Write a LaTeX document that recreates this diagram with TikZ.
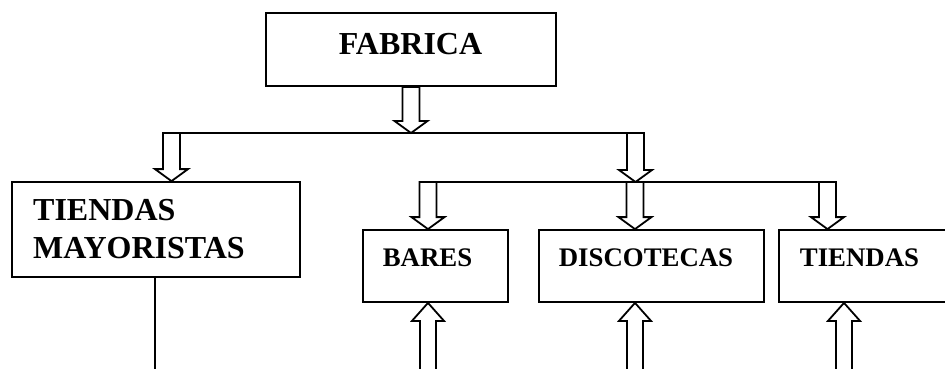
\documentclass[tikz,border=0pt]{standalone}
\usepackage{fontspec}
\setmainfont{Liberation Serif}
\usetikzlibrary{calc}
\tikzset{
  box/.style={draw, line width=1.8pt, rectangle, inner sep=0pt},
  bigtxt/.style={inner sep=0pt, font=\bfseries\fontsize{32}{38}\selectfont},
  smalltxt/.style={inner sep=0pt, font=\bfseries\fontsize{26.8}{31}\selectfont},
  wire/.style={line width=1.8pt},
  blockarrow/.style={draw, line width=1.8pt, fill=white, line join=miter},
}
% hollow block arrow pointing down: shaft from #1, tip at #2
\newcommand\blkdn[2]{\draw[blockarrow] let \p1=(#1), \p2=(#2) in
  (\x1-8.5pt,\y1) -- (\x1-8.5pt,\y2+12pt) -- (\x1-16.5pt,\y2+12pt) -- (\x1,\y2)
  -- (\x1+16.5pt,\y2+12pt) -- (\x1+8.5pt,\y2+12pt) -- (\x1+8.5pt,\y1) -- cycle;}
% hollow block arrow pointing up: shaft from #1 (below), tip at #2
\newcommand\blkup[2]{\draw[blockarrow] let \p1=(#1), \p2=(#2) in
  (\x1-8pt,\y1) -- (\x1-8pt,\y2-18pt) -- (\x1-16pt,\y2-18pt) -- (\x1,\y2)
  -- (\x1+16pt,\y2-18pt) -- (\x1+8pt,\y2-18pt) -- (\x1+8pt,\y1);}
\begin{document}
\begin{tikzpicture}[x=1pt,y=1pt]
\useasboundingbox (0,0) rectangle (945,-369);

% boxes
\node[box, minimum width=290, minimum height=73] (fab) at (411,-49.5) {};
\node[box, minimum width=288, minimum height=95] (may) at (156,-229.5) {};
\node[box, minimum width=145, minimum height=72] (bar) at (435.5,-266) {};
\node[box, minimum width=225, minimum height=72] (dis) at (651.5,-266) {};
\node[box, minimum width=171, minimum height=72] (tie) at (864.5,-266) {};

% labels
\node[bigtxt, anchor=base] (fabt) at (410.5,-55) {FABRICA};
\node[bigtxt, anchor=base west] (mayt1) at (33,-220) {TIENDAS};
\node[bigtxt, anchor=base west] (mayt2) at (33,-258) {MAYORISTAS};
\node[smalltxt, anchor=base] (bart) at (427.5,-266) {BARES};
\node[smalltxt, anchor=base] (dist) at (646,-266) {DISCOTECAS};
\node[smalltxt, anchor=base] (tiet) at (859.5,-266) {TIENDAS};

% junction points
\coordinate (j1l) at (163,-133);
\coordinate (j1r) at (644,-133);
\coordinate (j2l) at (420,-182);
\coordinate (j2r) at (835,-182);
\coordinate (a1) at (171.5,-133);
\coordinate (a2) at (635.5,-133);
\coordinate (b1) at (428,-182);
\coordinate (b2) at (635,-182);
\coordinate (b3) at (827.5,-182);
\coordinate (u1) at (428,-375);
\coordinate (u2) at (635,-375);
\coordinate (u3) at (844,-375);
\coordinate (mayend) at (155,-375);

% distribution lines
\draw[wire] (j1l) -- (j1r);
\draw[wire] (j2l) -- (j2r);
\draw[wire] (may.south -| mayend) -- (mayend);

% arrows downwards
\blkdn{fab.south}{j1l -| fab.south}
\blkdn{a1}{a1 |- may.north}
\blkdn{a2}{a2 |- j2l}
\blkdn{b1}{b1 |- bar.north}
\blkdn{b2}{b2 |- dis.north}
\blkdn{b3}{b3 |- tie.north}

% arrows upwards
\blkup{u1}{u1 |- bar.south}
\blkup{u2}{u2 |- dis.south}
\blkup{u3}{u3 |- tie.south}
\end{tikzpicture}
\end{document}
